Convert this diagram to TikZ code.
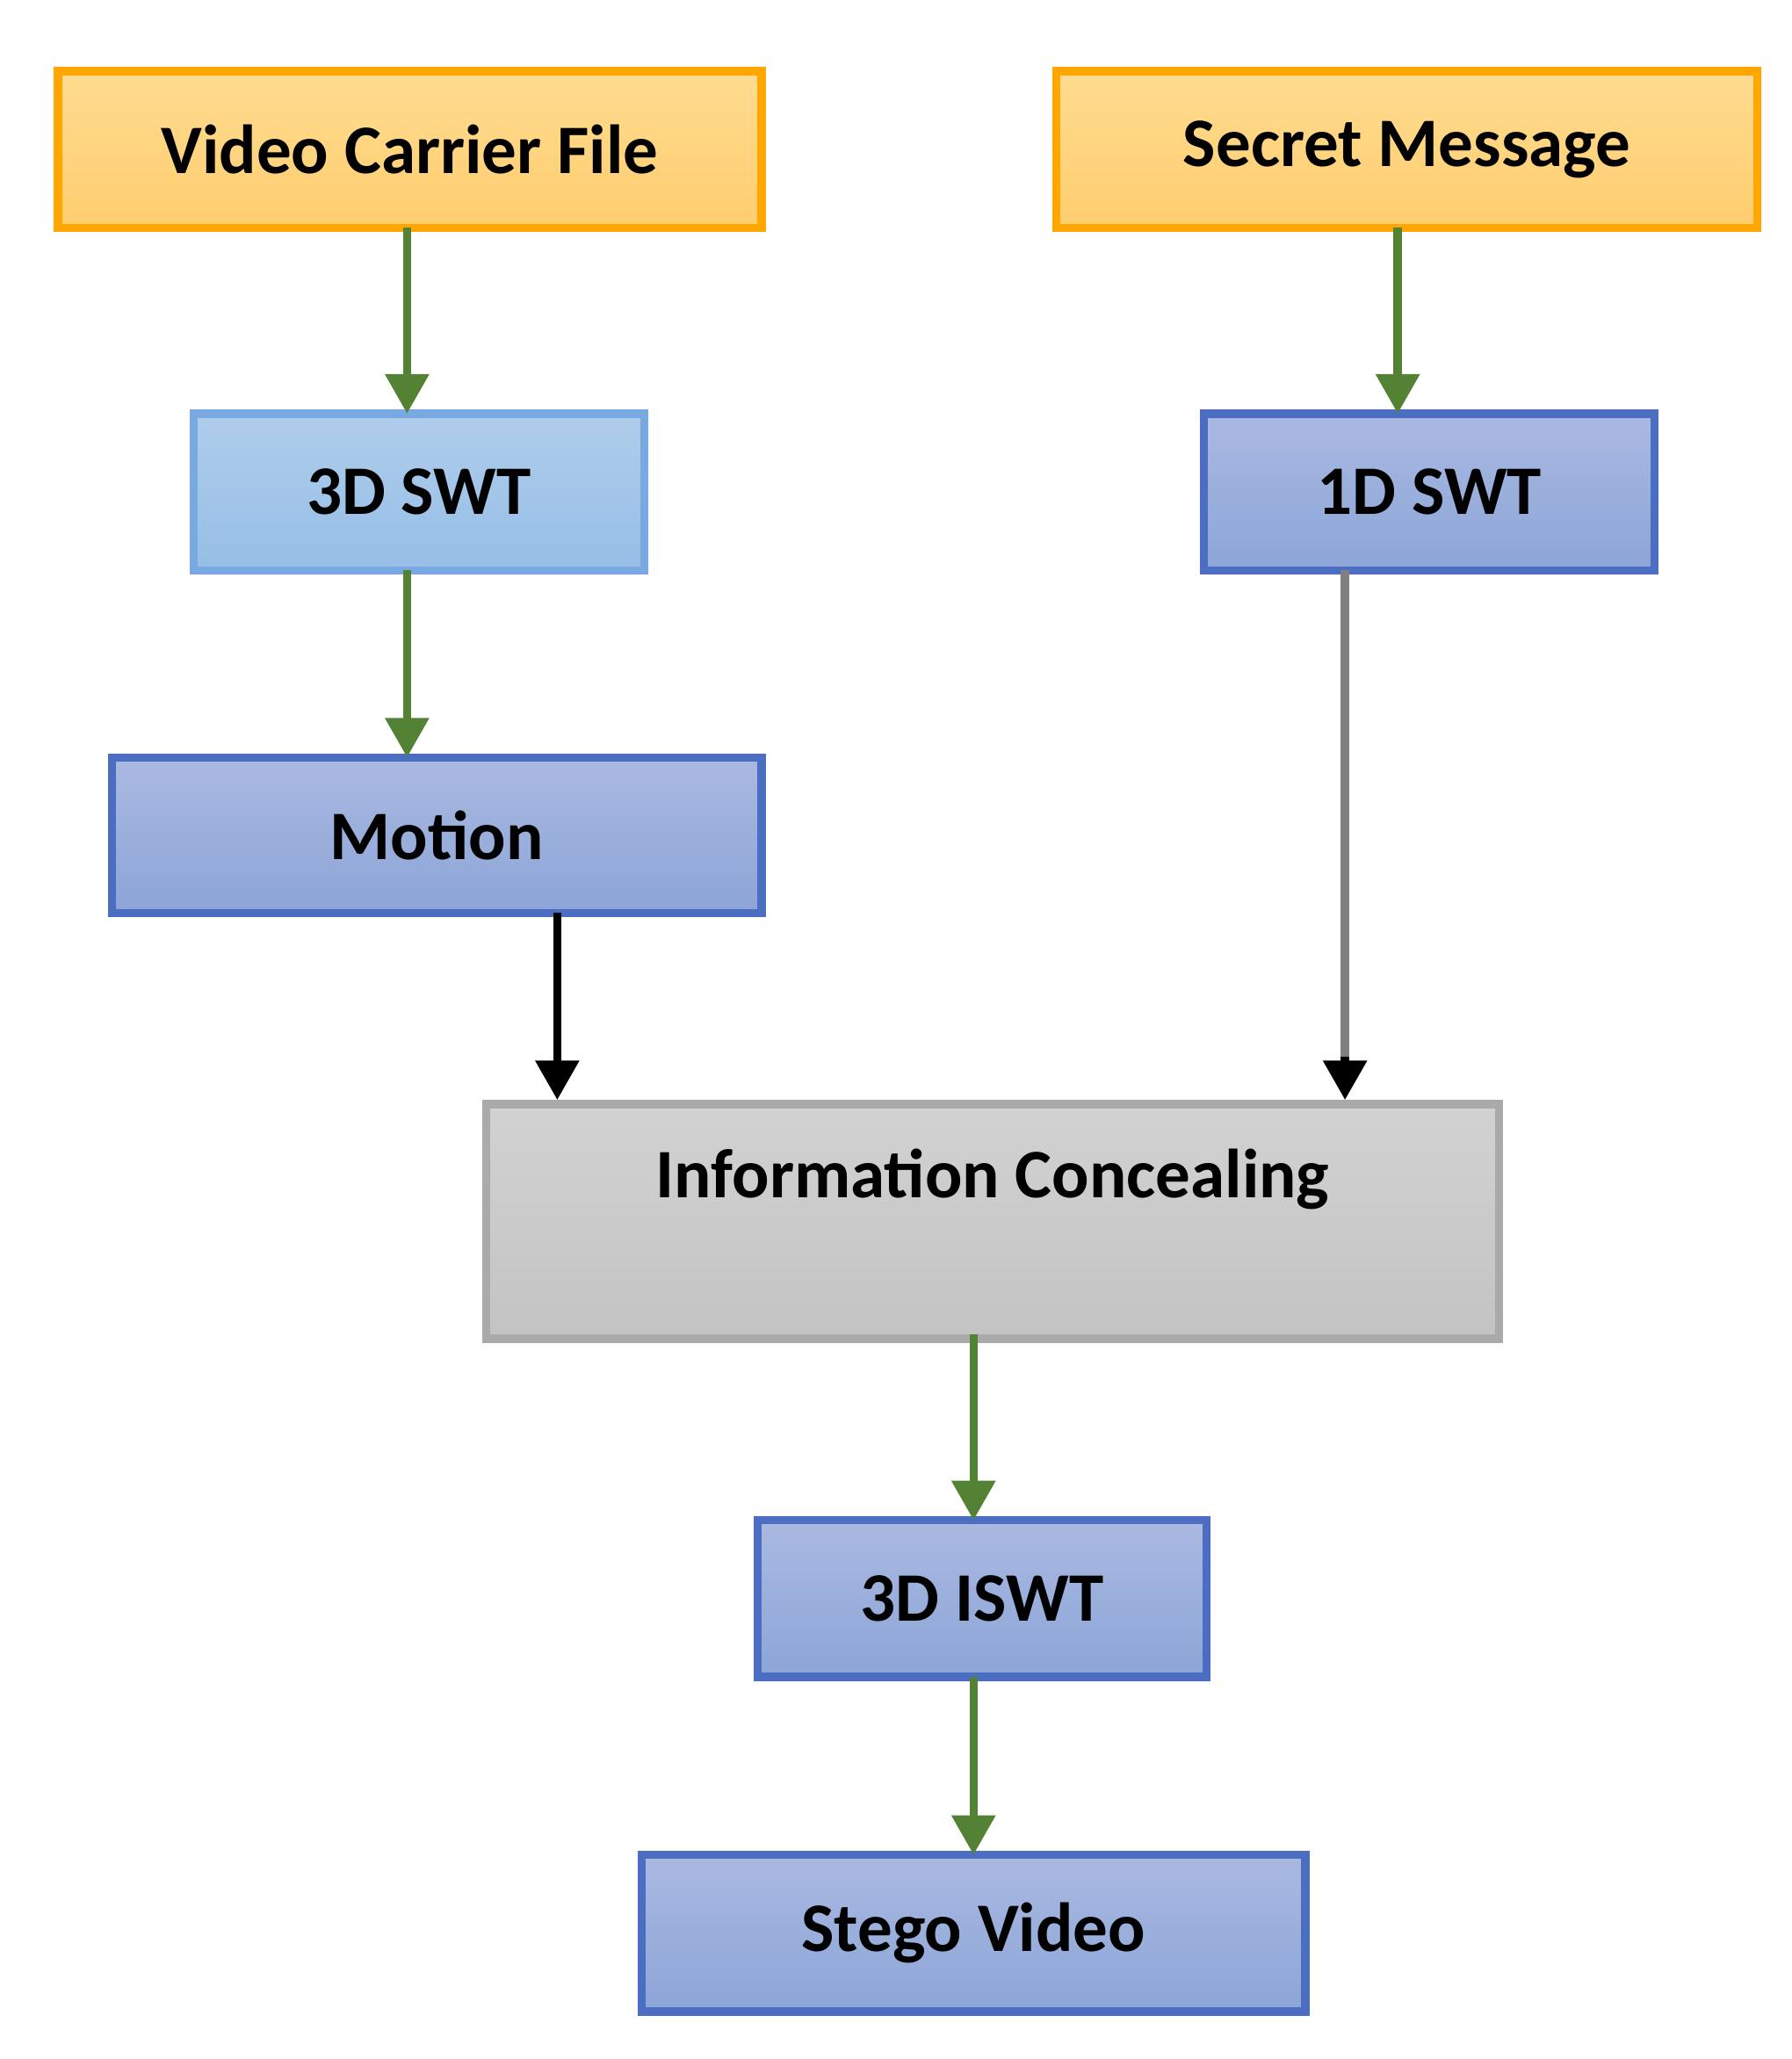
\documentclass[tikz,border=0pt]{standalone}
\usepackage{fontspec}
\setmainfont{Carlito}
\usetikzlibrary{arrows.meta}
\definecolor{gr}{HTML}{548235}
\tikzset{
 box/.style={draw, line width=1.8pt, font=\fontsize{15}{18}\selectfont\bfseries, inner sep=0pt},
 orange/.style={box, draw=orange!70!yellow, top color={rgb,255:red,255;green,220;blue,145}, bottom color={rgb,255:red,255;green,205;blue,110}},
 lblue/.style={box, draw={rgb,255:red,120;green,170;blue,225}, top color={rgb,255:red,175;green,205;blue,235}, bottom color={rgb,255:red,150;green,190;blue,230}},
 pblue/.style={box, draw={rgb,255:red,75;green,110;blue,195}, top color={rgb,255:red,170;green,185;blue,225}, bottom color={rgb,255:red,140;green,165;blue,215}},
 gray/.style={box, draw={rgb,255:red,170;green,170;blue,170}, top color={rgb,255:red,210;green,210;blue,210}, bottom color={rgb,255:red,195;green,195;blue,195}},
 arr/.style={line width=1.8pt, -{Triangle[width=0.32cm,length=0.3cm]}},
 garr/.style={arr, draw=gr},
}
\begin{document}
\begin{tikzpicture}
\useasboundingbox (0,0) rectangle (13.6,-15.63);
\node[orange, minimum width=5.34cm, minimum height=1.19cm] (vcf) at (3.11,-1.135) {Video Carrier File};
\node[orange, minimum width=5.32cm, minimum height=1.19cm] (sm) at (10.68,-1.135) {Secret Message};
\node[lblue, minimum width=3.42cm, minimum height=1.19cm] (swt3) at (3.18,-3.735) {3D SWT};
\node[pblue, minimum width=3.42cm, minimum height=1.19cm] (swt1) at (10.85,-3.735) {1D SWT};
\node[pblue, minimum width=4.93cm, minimum height=1.18cm] (mot) at (3.315,-6.34) {Motion};
\node[gray, minimum width=7.69cm, minimum height=1.78cm, anchor=north] (ic) at (7.535,-8.35) {};
\node[font=\fontsize{15}{18}\selectfont\bfseries] (ict) at (7.535,-8.95) {Information Concealing};
\node[pblue, minimum width=3.41cm, minimum height=1.19cm] (iswt) at (7.455,-12.135) {3D ISWT};
\node[pblue, minimum width=5.04cm, minimum height=1.19cm] (sv) at (7.39,-14.675) {Stego Video};
\coordinate (a1) at (3.09,-1.73); \coordinate (b1) at (3.09,-3.14);
\draw[garr] (a1) -- (b1);
\coordinate (a2) at (3.09,-4.33); \coordinate (b2) at (3.09,-5.75);
\draw[garr] (a2) -- (b2);
\coordinate (a3) at (10.61,-1.73); \coordinate (b3) at (10.61,-3.14);
\draw[garr] (a3) -- (b3);
\coordinate (a4) at (4.23,-6.93); \coordinate (b4) at (4.23,-8.35);
\draw[arr] (a4) -- (b4);
\coordinate (a5) at (10.21,-4.33); \coordinate (c5) at (10.21,-8.02); \coordinate (b5) at (10.21,-8.35);
\draw[line width=1.8pt, draw=gray] (a5) -- (c5);
\draw[arr] (c5) -- (b5);
\coordinate (a6) at (7.39,-10.13); \coordinate (b6) at (7.39,-11.54);
\draw[garr] (a6) -- (b6);
\coordinate (a7) at (7.39,-12.73); \coordinate (b7) at (7.39,-14.08);
\draw[garr] (a7) -- (b7);
\end{tikzpicture}
\end{document}
